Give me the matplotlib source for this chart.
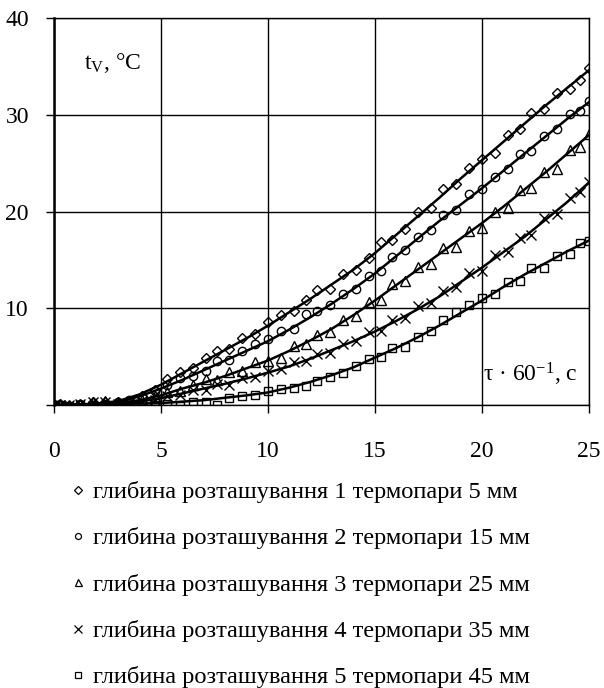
import matplotlib
matplotlib.use("Agg")
import matplotlib.pyplot as plt
from matplotlib.lines import Line2D

plt.rcParams['font.family'] = ['Liberation Serif', 'DejaVu Serif']
plt.rcParams['mathtext.fontset'] = 'custom'
plt.rcParams['mathtext.rm'] = 'Liberation Serif'
plt.rcParams['mathtext.it'] = 'Liberation Serif:italic'

# trend lines, read at whole minutes
x_line = list(range(26))
line_1 = [0, 0.05, 0.15, 0.4, 1.1, 2.1, 3.3, 4.5, 5.7, 6.9, 8.2, 9.6, 11.0, 12.5, 14.0, 15.7,
          17.6, 19.5, 21.4, 23.4, 25.3, 27.2, 29.1, 31.0, 32.8, 34.6]
line_2 = [0, 0.02, 0.1, 0.3, 0.9, 1.7, 2.6, 3.6, 4.6, 5.6, 6.6, 7.8, 9.1, 10.5, 12.0, 13.6,
          15.4, 17.2, 19.0, 20.7, 22.4, 24.2, 26.0, 27.8, 29.6, 31.3]
line_3 = [0, 0, 0.05, 0.2, 0.5, 1.0, 1.7, 2.3, 3.0, 3.8, 4.6, 5.6, 6.7, 7.9, 9.3, 10.8,
          12.4, 14.0, 15.6, 17.2, 18.8, 20.5, 22.3, 24.1, 26.0, 27.9]
line_4 = [0, 0, 0.02, 0.1, 0.35, 0.7, 1.2, 1.7, 2.2, 2.75, 3.35, 4.0, 4.8, 5.7, 6.6, 7.6,
          8.7, 9.9, 11.2, 12.7, 14.2, 15.8, 17.4, 19.2, 21.0, 23.0]
line_5 = [0, 0.02, 0.05, 0.1, 0.15, 0.2, 0.35, 0.5, 0.75, 1.0, 1.3, 1.8, 2.4, 3.1, 3.9, 4.9,
          5.9, 7.0, 8.2, 9.5, 10.8, 12.2, 13.5, 14.7, 15.9, 17.0]

# measured points
x_pts = [0, 0.3, 0.7, 1.2, 1.8, 2.4, 3.0, 3.5, 4.1, 4.7, 5.3, 5.9, 6.5, 7.1, 7.6, 8.2, 8.8,
         9.4, 10.0, 10.6, 11.2, 11.8, 12.3, 12.9, 13.5, 14.1, 14.7, 15.3, 15.8, 16.4, 17.0,
         17.6, 18.2, 18.8, 19.4, 20.0, 20.6, 21.2, 21.8, 22.3, 22.9, 23.5, 24.1, 24.6, 25.0]
pts_1 = [0, 0.1, -0.1, 0.05, 0.3, 0.35, 0.3, 0.45, 0.9, 1.6, 2.7, 3.4, 3.8, 4.9, 5.6, 5.8,
         6.9, 7.3, 8.6, 9.3, 9.7, 10.9, 11.9, 12.0, 13.5, 14.0, 15.2, 16.9, 17.1, 18.2, 20.0,
         20.4, 22.3, 22.8, 24.5, 25.4, 26.1, 27.9, 28.5, 30.2, 30.6, 32.2, 32.7, 33.6, 34.8]
pts_2 = [0, 0.05, -0.05, 0.1, 0.0, 0.15, 0.35, 0.5, 0.8, 1.4, 2.1, 2.8, 3.0, 3.5, 4.6, 4.7,
         5.6, 6.3, 6.8, 7.6, 7.9, 9.4, 9.7, 10.3, 11.5, 12.0, 13.3, 13.9, 15.3, 16.0, 17.4,
         18.1, 19.6, 20.2, 21.8, 22.3, 23.6, 24.4, 25.9, 26.3, 27.8, 28.5, 30.1, 30.4, 31.4]
pts_3 = [0, 0.05, 0, 0.1, 0.3, 0.4, 0.25, 0.3, 0.5, 0.9, 1.3, 1.4, 2.1, 2.7, 2.6, 3.4,
         3.5, 4.4, 4.6, 4.9, 6.1, 6.3, 7.2, 7.5, 8.8, 9.2, 10.6, 10.9, 12.5, 12.8, 14.3,
         14.6, 16.2, 16.3, 18.0, 18.3, 20.0, 20.4, 22.2, 22.4, 24.1, 24.4, 26.4, 26.7, 28.0]
pts_4 = [0, 0, 0.05, 0.1, 0.35, 0.3, 0.15, 0.2, 0.35, 0.5, 0.9, 1.0, 1.6, 1.6, 2.2, 2.1,
         2.8, 2.9, 3.5, 3.7, 4.4, 4.5, 5.3, 5.4, 6.3, 6.6, 7.5, 7.7, 8.8, 9.0, 10.2,
         10.5, 11.8, 12.2, 13.6, 13.9, 15.5, 15.8, 17.3, 17.6, 19.3, 19.7, 21.4, 22.0, 23.1]
pts_5 = [0, 0.02, -0.05, 0, 0.05, 0.02, 0.05, -0.05, 0.1, 0.2, 0.1, -0.1, 0.3, 0.35, 0.0,
         0.7, 0.9, 1.0, 1.4, 1.7, 1.8, 2.0, 2.5, 2.9, 3.3, 4.0, 4.8, 5.0, 5.9, 6.0, 7.0,
         7.7, 8.8, 9.6, 10.3, 11.1, 11.5, 12.7, 12.8, 14.2, 14.2, 15.4, 15.6, 16.7, 17.0]

labels = ["глибина розташування 1 термопари 5 мм",
          "глибина розташування 2 термопари 15 мм",
          "глибина розташування 3 термопари 25 мм",
          "глибина розташування 4 термопари 35 мм",
          "глибина розташування 5 термопари 45 мм"]
markers = ['D', 'o', '^', 'x', 's']
msizes = [5.5, 6, 7, 7.5, 6]

fig = plt.figure(figsize=(6.04, 6.88), dpi=100)
ax = fig.add_axes([0.0894, 0.4113, 0.8856, 0.5625])

lines = [line_1, line_2, line_3, line_4, line_5]
pts = [pts_1, pts_2, pts_3, pts_4, pts_5]
for i in range(5):
    ax.plot(x_pts, pts[i], linestyle='none', marker=markers[i], ms=msizes[i],
            mfc='none', mec='black', mew=1.0, zorder=3)
    ax.plot(x_line, lines[i], color='black', lw=1.8, zorder=4)

ax.set_xlim(0, 25)
ax.set_ylim(0, 40)
ax.set_xticks([0, 5, 10, 15, 20, 25])
ax.set_yticks([0, 10, 20, 30, 40])
ax.set_yticklabels(['', '10', '20', '30', '40'])
ax.tick_params(axis='both', direction='out', length=6, width=1, labelsize=17, colors='black')
ax.tick_params(axis='x', pad=20)
ax.tick_params(axis='y', pad=12)
ax.grid(True, color='black', lw=1)
ax.set_axisbelow(True)
for s in ax.spines.values():
    s.set_linewidth(1)
ax.spines['left'].set_linewidth(1.8)

ax.text(1.4, 35.4, r"t$_\mathregular{V}$, °C", fontsize=17, ha='left', va='center')
ax.text(24.5, 3.2, r"τ · 60$^{\mathregular{-1}}$, c", fontsize=17, ha='right', va='center')

handles = [Line2D([], [], linestyle='none', marker=markers[i], ms=msizes[i] * 0.72,
                  mfc='none', mec='black', mew=0.9) for i in range(5)]
fig.legend(handles, labels, loc='upper left', bbox_to_anchor=(0.101, 0.315),
           frameon=False, fontsize=17.6, handlelength=0.6, handletextpad=0.3,
           labelspacing=0.99, borderaxespad=0)

fig.savefig('out.png', dpi=100)
